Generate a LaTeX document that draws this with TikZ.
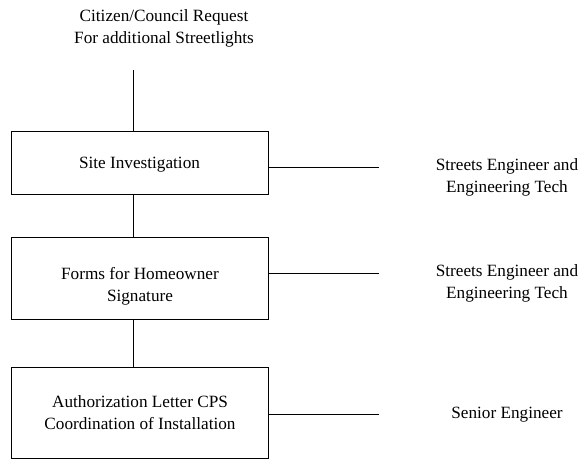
\documentclass[tikz,border=0pt]{standalone}
\usepackage{fontspec}
\setmainfont{Liberation Serif}
\begin{document}
\begin{tikzpicture}[x=1pt,y=1pt,
  every node/.style={font=\fontsize{17.2}{22}\selectfont, align=center, inner sep=0pt},
  procbox/.style={draw, line width=0.9pt, minimum width=257pt},
  conn/.style={line width=0.9pt}]
\useasboundingbox (0,0) rectangle (582,-460);
\node (title) at (164,-28.5) {Citizen/Council Request\\For additional Streetlights};
\node[procbox, minimum height=63pt] (b1) at (139.5,-162.5) {};
\node[procbox, minimum height=82pt] (b2) at (140,-278) {};
\node[procbox, minimum height=91pt] (b3) at (140,-412.5) {};
\node (t1) at ([yshift=-2.5pt]b1.center) {Site Investigation};
\node (t2) at ([yshift=-8pt]b2.center) {Forms for Homeowner\\Signature};
\node (t3) at (b3.center) {Authorization Letter CPS\\Coordination of Installation};
\node (r1) at (507,-177) {Streets Engineer and\\Engineering Tech};
\node (r2) at (507,-283) {Streets Engineer and\\Engineering Tech};
\node (r3) at (507,-415) {Senior Engineer};
\coordinate (top) at (133,-70);
\coordinate (e1) at (379,-167);
\coordinate (e2) at (379,-273);
\coordinate (e3) at (379,-414);
\draw[conn] (top) -- (top |- b1.north);
\draw[conn] (top |- b1.south) -- (top |- b2.north);
\draw[conn] (top |- b2.south) -- (top |- b3.north);
\draw[conn] (b1.east |- e1) -- (e1);
\draw[conn] (b2.east |- e2) -- (e2);
\draw[conn] (b3.east |- e3) -- (e3);
\end{tikzpicture}
\end{document}
